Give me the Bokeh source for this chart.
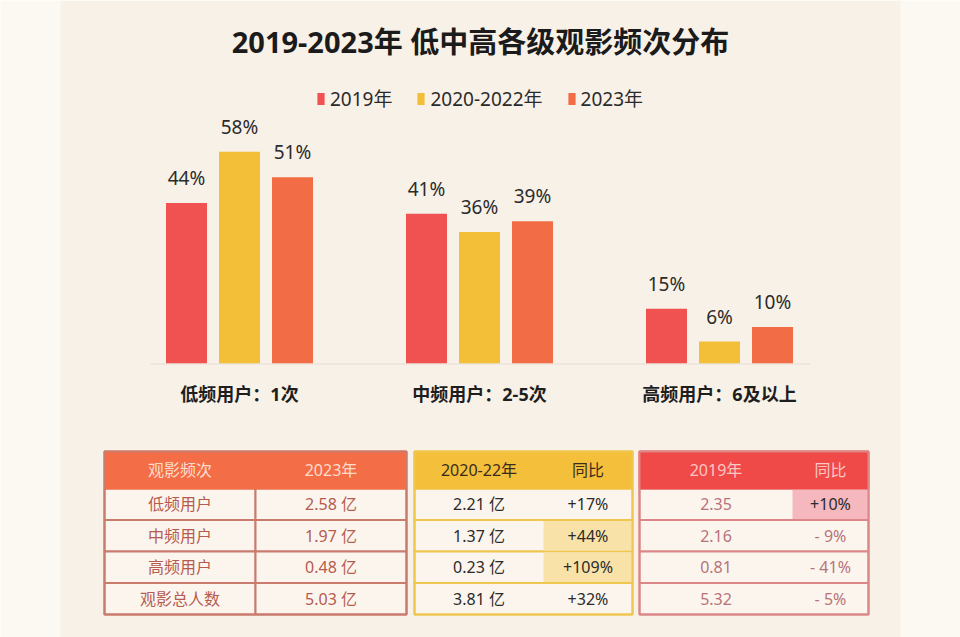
import numpy as np
from bokeh.plotting import figure
from bokeh.models import Range1d, ColumnDataSource, Legend, LegendItem
from bokeh.core.properties import value
from bokeh.embed import file_html
from bokeh.resources import INLINE

# ---------------- data ----------------
title = "2019-2023年 低中高各级观影频次分布"
groups = ["低频用户：1次", "中频用户：2-5次", "高频用户：6及以上"]
series = ["2019年", "2020-2022年", "2023年"]
share_2019 = [44, 41, 15]
share_2020_22 = [58, 36, 6]
share_2023 = [51, 39, 10]

table_rows = ["低频用户", "中频用户", "高频用户", "观影总人数"]
users_2023 = [2.58, 1.97, 0.48, 5.03]
users_2020_22 = [2.21, 1.37, 0.23, 3.81]
yoy_2020_22 = [17, 44, 109, 32]
users_2019 = [2.35, 2.16, 0.81, 5.32]
yoy_2019 = [10, -9, -41, -5]

# ---------------- style ----------------
FONT = "Noto Sans, Noto Sans CJK SC"
C_RED, C_YEL, C_ORG = "#f05252", "#f3be38", "#f26c45"
OUTER_BG, PANEL_BG = "#fcf9f3", "#f8f1e8"
CELL_BG = "#fbf5ee"
W, H = 960, 637
PX_PER_PCT = 3.65
BASE_Y, TOP_Y, BOT_Y = 363, 0, H
GROUP_PX, GROUP_MID = 240, 479   # pixel spacing of groups, centre of middle group

def fmt_yi(v):
    return f"{v:.2f} 亿"

def fmt_pct(v):
    return f"+{v}%" if v >= 0 else f"- {abs(v)}%"

p = figure(width=W, height=H, x_range=Range1d(0, W), y_range=Range1d(BOT_Y, TOP_Y),
           output_backend="svg", toolbar_location=None, min_border=0,
           x_axis_location=None, y_axis_location=None)
p.grid.visible = False
p.outline_line_color = None
p.background_fill_color = OUTER_BG
p.border_fill_color = OUTER_BG

p.extra_x_ranges = {"grp": Range1d(1 - GROUP_MID / GROUP_PX, 1 + (W - GROUP_MID) / GROUP_PX)}
p.extra_y_ranges = {"pct": Range1d(-(BOT_Y - BASE_Y) / PX_PER_PCT, (BASE_Y - TOP_Y) / PX_PER_PCT)}

# panel background
p.quad(left=[60], right=[900], top=[TOP_Y], bottom=[BOT_Y], fill_color=PANEL_BG, line_color=None)

# title
p.text(x=[480], y=[41], text=[title], text_align="center", text_baseline="middle",
       text_font=value(FONT), text_font_size="29px", text_font_style="bold", text_color="#1b1b1b")

# bars
gidx = np.arange(len(groups))
shares = [share_2019, share_2020_22, share_2023]
offsets = [-53 / GROUP_PX, 0, 53 / GROUP_PX]
colors = [C_RED, C_YEL, C_ORG]
renderers = []
for i in range(3):
    src = ColumnDataSource(dict(x=gidx + offsets[i], top=shares[i], lab=[f"{v}%" for v in shares[i]]))
    r = p.vbar(x="x", top="top", bottom=0, width=41 / GROUP_PX, source=src,
               fill_color=colors[i], line_color=None, x_range_name="grp", y_range_name="pct")
    renderers.append(r)
    p.text(x="x", y="top", text="lab", source=src, x_range_name="grp", y_range_name="pct",
           y_offset=-25, text_align="center", text_baseline="alphabetic",
           text_font=value(FONT), text_font_size="19px", text_color="#2b2b2b")

# baseline
p.segment(x0=[150], x1=[810], y0=[BASE_Y + 0.5], y1=[BASE_Y + 0.5], line_color="#e6ddd3", line_width=1)

# category labels
p.text(x=gidx, y=[393] * 3, text=groups, x_range_name="grp", text_align="center",
       text_baseline="middle", text_font=value(FONT), text_font_size="18px",
       text_font_style="bold", text_color="#1e1e1e")

# legend
legend = Legend(items=[LegendItem(label=series[i], renderers=[renderers[i]]) for i in range(3)],
                orientation="horizontal", location=(316, H - 112), glyph_width=9, glyph_height=15,
                label_standoff=5, spacing=24, padding=0, margin=0,
                background_fill_alpha=0, border_line_color=None,
                label_text_font=FONT, label_text_font_size="19px", label_text_color="#2b2b2b")
p.add_layout(legend, "center")

# ---------------- tables ----------------
ROW_Y = [451, 488, 519.5, 551, 582.5, 614]
row_mid = [(ROW_Y[k] + ROW_Y[k + 1]) / 2 for k in range(5)]

blocks = [
    dict(xs=[104, 255, 406], header=["观影频次", "2023年"],
         cols=[table_rows, [fmt_yi(v) for v in users_2023]],
         head_fill="#f36e46", head_text="#fddccd", border="#c97b6d",
         body_text=["#b65b4f"] * 4, body_text2=["#b65b4f"] * 4, split=True,
         hl_rows=[], hl_fill=None),
    dict(xs=[414, 543, 632], header=["2020-22年", "同比"],
         cols=[[fmt_yi(v) for v in users_2020_22], [fmt_pct(v) for v in yoy_2020_22]],
         head_fill="#f4bf3b", head_text="#3a2c1c", border="#efc650",
         body_text=["#2b2b2b"] * 4, body_text2=["#2b2b2b"] * 4, split=False,
         hl_rows=[1, 2], hl_fill="#f8e2a8"),
    dict(xs=[639, 792, 868], header=["2019年", "同比"],
         cols=[[f"{v:.2f}" for v in users_2019], [fmt_pct(v) for v in yoy_2019]],
         head_fill="#f04a48", head_text="#fbc6c4", border="#dc8787",
         body_text=["#b8737a"] * 4, body_text2=["#2b2b2b", "#b8737a", "#b8737a", "#b8737a"], split=False,
         hl_rows=[0], hl_fill="#f5b8bf"),
]

for b in blocks:
    x0, xm, x1 = b["xs"]
    if b["split"]:
        lefts = [x0] * 4 + [xm] * 4
        rights = [xm] * 4 + [x1] * 4
        tops = ROW_Y[1:5] * 2
        bots = ROW_Y[2:6] * 2
    else:
        lefts, rights, tops, bots = [x0] * 4, [x1] * 4, ROW_Y[1:5], ROW_Y[2:6]
    p.quad(left=lefts, right=rights, top=tops, bottom=bots, fill_color=CELL_BG,
           line_color=b["border"], line_width=2)
    if b["hl_rows"]:
        hr = b["hl_rows"]
        p.quad(left=[xm] * len(hr), right=[x1 - 1] * len(hr),
               top=[ROW_Y[k + 1] + 1 for k in hr], bottom=[ROW_Y[k + 2] - 1 for k in hr],
               fill_color=b["hl_fill"], line_color=None)
    p.quad(left=[x0], right=[x1], top=[ROW_Y[0]], bottom=[ROW_Y[1]], fill_color=b["head_fill"],
           line_color=b["head_fill"], line_width=2)
    p.quad(left=[x0], right=[x1], top=[ROW_Y[0]], bottom=[ROW_Y[5]], fill_color=None,
           line_color=b["border"], line_width=2)
    cx = [(x0 + xm) / 2, (xm + x1) / 2]
    p.text(x=cx, y=[row_mid[0]] * 2, text=b["header"], text_align="center", text_baseline="middle",
           text_font=value(FONT), text_font_size="16px", text_color=b["head_text"])
    for c in range(2):
        p.text(x=[cx[c]] * 4, y=row_mid[1:], text=b["cols"][c], text_align="center",
               text_baseline="middle", text_font=value(FONT), text_font_size="16px",
               text_color=b["body_text"] if c == 0 else b["body_text2"])

open("out.html", "w").write(file_html(p, INLINE))
